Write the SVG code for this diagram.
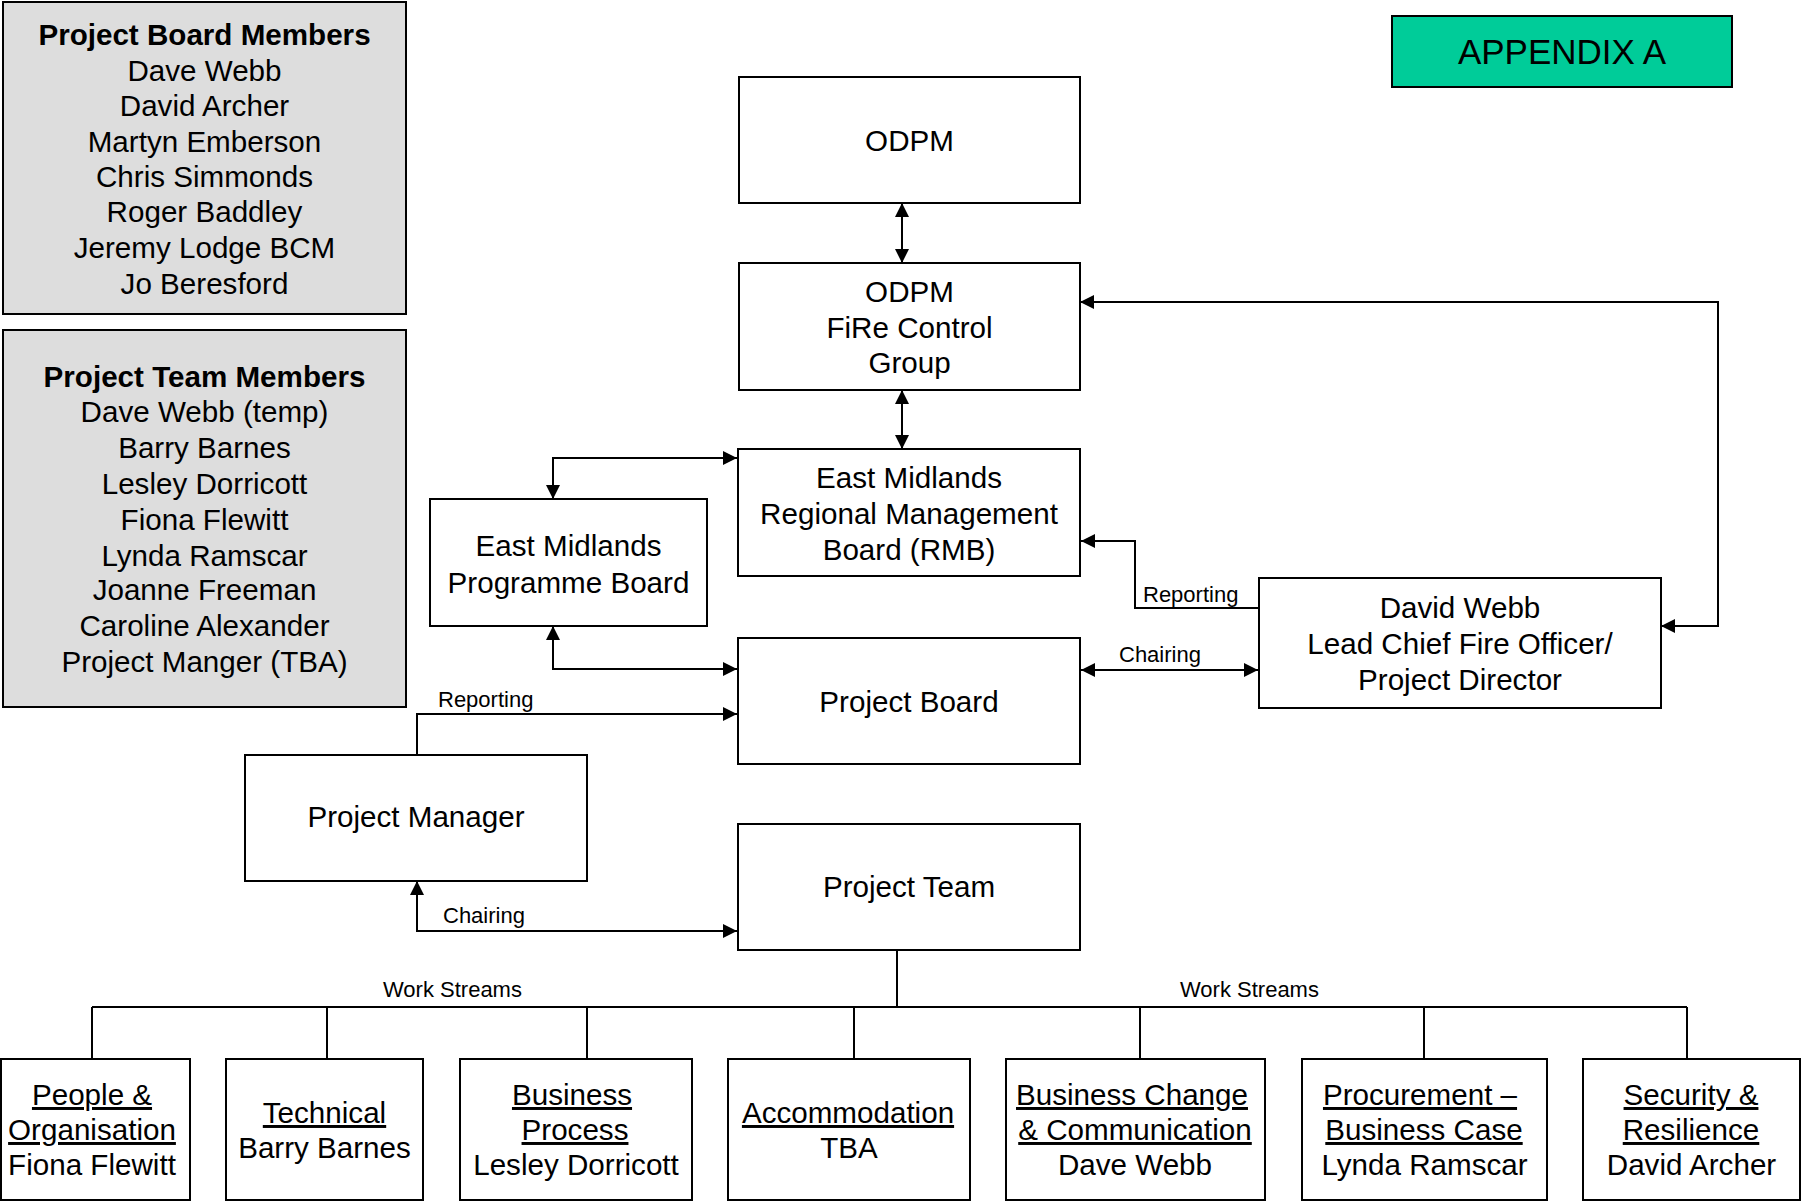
<svg xmlns="http://www.w3.org/2000/svg" width="1802" height="1203" viewBox="0 0 1802 1203">
<style>
text{font-family:"Liberation Sans",Arial,Helvetica,sans-serif;fill:#000}
.box{fill:#fff;stroke:#000;stroke-width:2}
.mem{fill:#dddddd;stroke:#000;stroke-width:2}
.t{font-size:29.6px;text-anchor:middle}
.tb{font-size:29.6px;text-anchor:middle;font-weight:bold}
.u{text-decoration:underline}
.lbl{font-size:22px}
.c{fill:none;stroke:#000;stroke-width:2}
</style>
<defs>
<marker id="ah" viewBox="0 0 14 14" refX="14" refY="7" markerWidth="14" markerHeight="14" markerUnits="userSpaceOnUse" orient="auto-start-reverse">
<path d="M0,0 L14,7 L0,14 z" fill="#000"/>
</marker>
</defs>
<rect width="1802" height="1203" fill="#fff"/>

<g id="board-members">
<rect class="mem" x="3" y="2" width="403" height="312"/>
<text class="tb" x="204.5" y="45">Project Board Members</text>
<text class="t" x="204.5" y="81">Dave Webb</text>
<text class="t" x="204.5" y="116">David Archer</text>
<text class="t" x="204.5" y="152">Martyn Emberson</text>
<text class="t" x="204.5" y="187">Chris Simmonds</text>
<text class="t" x="204.5" y="222">Roger Baddley</text>
<text class="t" x="204.5" y="258">Jeremy Lodge BCM</text>
<text class="t" x="204.5" y="294">Jo Beresford</text>
</g>

<g id="team-members">
<rect class="mem" x="3" y="330" width="403" height="377"/>
<text class="tb" x="204.5" y="387">Project Team Members</text>
<text class="t" x="204.5" y="422">Dave Webb (temp)</text>
<text class="t" x="204.5" y="458">Barry Barnes</text>
<text class="t" x="204.5" y="494">Lesley Dorricott</text>
<text class="t" x="204.5" y="530">Fiona Flewitt</text>
<text class="t" x="204.5" y="566">Lynda Ramscar</text>
<text class="t" x="204.5" y="600">Joanne Freeman</text>
<text class="t" x="204.5" y="636">Caroline Alexander</text>
<text class="t" x="204.5" y="672">Project Manger (TBA)</text>
</g>

<g id="appendix">
<rect x="1392" y="16" width="340" height="71" fill="#00cc99" stroke="#000" stroke-width="2"/>
<text x="1562" y="64" style="font-size:35px;text-anchor:middle">APPENDIX A</text>
</g>

<g id="odpm">
<rect class="box" x="739" y="77" width="341" height="126"/>
<text class="t" x="909.5" y="151">ODPM</text>
</g>

<g id="fire-control">
<rect class="box" x="739" y="263" width="341" height="127"/>
<text class="t" x="909.5" y="302">ODPM</text>
<text class="t" x="909.5" y="338">FiRe Control</text>
<text class="t" x="909.5" y="373">Group</text>
</g>

<g id="rmb">
<rect class="box" x="738" y="449" width="342" height="127"/>
<text class="t" x="909" y="488">East Midlands</text>
<text class="t" x="909" y="524">Regional Management</text>
<text class="t" x="909" y="560">Board (RMB)</text>
</g>

<g id="programme-board">
<rect class="box" x="430" y="499" width="277" height="127"/>
<text class="t" x="568.5" y="556">East Midlands</text>
<text class="t" x="568.5" y="593">Programme Board</text>
</g>

<g id="project-board">
<rect class="box" x="738" y="638" width="342" height="126"/>
<text class="t" x="909" y="712">Project Board</text>
</g>

<g id="david-webb">
<rect class="box" x="1259" y="578" width="402" height="130"/>
<text class="t" x="1460" y="618">David Webb</text>
<text class="t" x="1460" y="654">Lead Chief Fire Officer/</text>
<text class="t" x="1460" y="690">Project Director</text>
</g>

<g id="project-manager">
<rect class="box" x="245" y="755" width="342" height="126"/>
<text class="t" x="416" y="827">Project Manager</text>
</g>

<g id="project-team">
<rect class="box" x="738" y="824" width="342" height="126"/>
<text class="t" x="909" y="897">Project Team</text>
</g>

<g id="ws-people">
<rect class="box" x="1" y="1059" width="189" height="141"/>
<text class="t u" x="92" y="1105">People &amp;</text>
<text class="t u" x="92" y="1140">Organisation</text>
<text class="t" x="92" y="1175">Fiona Flewitt</text>
</g>
<g id="ws-technical">
<rect class="box" x="226" y="1059" width="197" height="141"/>
<text class="t u" x="324.5" y="1123">Technical</text>
<text class="t" x="324.5" y="1158">Barry Barnes</text>
</g>
<g id="ws-business-process">
<rect class="box" x="460" y="1059" width="232" height="141"/>
<text class="t u" x="572" y="1105">Business</text>
<text class="t u" x="575" y="1140">Process</text>
<text class="t" x="576" y="1175">Lesley Dorricott</text>
</g>
<g id="ws-accommodation">
<rect class="box" x="728" y="1059" width="242" height="141"/>
<text class="t u" x="848" y="1123">Accommodation</text>
<text class="t" x="849" y="1158">TBA</text>
</g>
<g id="ws-business-change">
<rect class="box" x="1006" y="1059" width="259" height="141"/>
<text class="t u" x="1132" y="1105">Business Change</text>
<text class="t u" x="1135" y="1140">&amp; Communication</text>
<text class="t" x="1135" y="1175">Dave Webb</text>
</g>
<g id="ws-procurement">
<rect class="box" x="1302" y="1059" width="245" height="141"/>
<text class="t u" x="1420" y="1105">Procurement –</text>
<text class="t u" x="1424" y="1140">Business Case</text>
<text class="t" x="1424.5" y="1175">Lynda Ramscar</text>
</g>
<g id="ws-security">
<rect class="box" x="1583" y="1059" width="217" height="141"/>
<text class="t u" x="1691" y="1105">Security &amp;</text>
<text class="t u" x="1691" y="1140">Resilience</text>
<text class="t" x="1691.5" y="1175">David Archer</text>
</g>

<g id="connectors">
<path class="c" d="M902,203 V263" marker-start="url(#ah)" marker-end="url(#ah)"/>
<path class="c" d="M902,390 V449" marker-start="url(#ah)" marker-end="url(#ah)"/>
<path class="c" d="M1661,626 H1718 V302 H1080" marker-start="url(#ah)" marker-end="url(#ah)"/>
<path class="c" d="M737,458 H553 V499" marker-start="url(#ah)" marker-end="url(#ah)"/>
<path class="c" d="M553,626 V669 H737" marker-start="url(#ah)" marker-end="url(#ah)"/>
<path class="c" d="M1259,608 H1135 V541 H1081" marker-end="url(#ah)"/>
<path class="c" d="M1081,670 H1258" marker-start="url(#ah)" marker-end="url(#ah)"/>
<path class="c" d="M417,755 V714 H737" marker-end="url(#ah)"/>
<path class="c" d="M417,881 V931 H737" marker-start="url(#ah)" marker-end="url(#ah)"/>
<path class="c" d="M897,950 V1007 M92,1007 H1687 M92,1007 V1059 M327,1007 V1059 M587,1007 V1059 M854,1007 V1059 M1140,1007 V1059 M1424,1007 V1059 M1687,1007 V1059"/>
<text class="lbl" x="1143" y="602">Reporting</text>
<text class="lbl" x="1119" y="662">Chairing</text>
<text class="lbl" x="438" y="707">Reporting</text>
<text class="lbl" x="443" y="923">Chairing</text>
<text class="lbl" x="383" y="997">Work Streams</text>
<text class="lbl" x="1180" y="997">Work Streams</text>
</g>
</svg>
